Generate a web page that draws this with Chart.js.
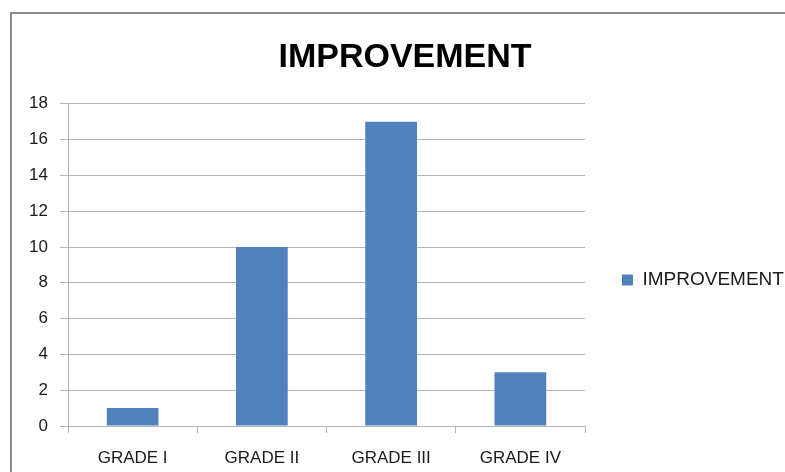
<!DOCTYPE html>
<html>
<head>
<meta charset="utf-8">
<script src="https://cdn.jsdelivr.net/npm/chart.js@4.4.1/dist/chart.umd.min.js"></script>
<style>
  html, body { margin: 0; padding: 0; background: #ffffff; overflow: hidden; width: 785px; height: 472px; }
  #frame { position: absolute; left: 10px; top: 12px; width: 800px; height: 500px; border: 2px solid #8c8c8c; box-sizing: border-box; }
  #wrap { position: absolute; left: 26px; top: 14px; width: 758px; height: 532px; }
</style>
</head>
<body>
<div id="frame"></div>
<div id="wrap"><canvas id="c"></canvas></div>
<script>
const categories = ["GRADE I", "GRADE II", "GRADE III", "GRADE IV"];
const seriesName = "IMPROVEMENT";
const improvement = [1, 10, 17, 3];
const yMin = 0;
const yMax = 18;
const yStep = 2;

const FONT = "'Liberation Sans', Arial, sans-serif";
const GRID = "#b4b4b4";

new Chart(document.getElementById("c"), {
  type: "bar",
  data: {
    labels: categories,
    datasets: [{
      label: seriesName,
      data: improvement,
      backgroundColor: "#4f81bd",
      borderWidth: 0,
      barPercentage: 0.4,
      categoryPercentage: 1.0
    }]
  },
  options: {
    responsive: true,
    maintainAspectRatio: false,
    animation: false,
    devicePixelRatio: 1,
    layout: { padding: 0 },
    plugins: {
      title: {
        display: true,
        text: seriesName,
        color: "#000000",
        font: { family: FONT, size: 34, weight: "bold" },
        padding: { top: 23, bottom: 26 }
      },
      legend: {
        display: true,
        position: "right",
        maxWidth: 199,
        labels: {
          boxWidth: 11,
          boxHeight: 11,
          padding: 37,
          color: "#1a1a1a",
          font: { family: FONT, size: 19 }
        }
      },
      tooltip: { enabled: false }
    },
    scales: {
      x: {
        offset: true,
        grid: { display: true, drawOnChartArea: false, drawTicks: true, tickLength: 7, color: GRID, offset: true },
        border: { display: true, color: GRID, width: 1 },
        ticks: { color: "#1a1a1a", font: { family: FONT, size: 17 }, padding: 15, maxRotation: 0, autoSkip: false },
        afterFit: function (scale) { scale.height = 120; }
      },
      y: {
        min: yMin,
        max: yMax,
        ticks: { stepSize: yStep, color: "#1a1a1a", font: { family: FONT, size: 17 }, padding: 12 },
        grid: { color: GRID, tickLength: 8, drawTicks: true },
        border: { display: true, color: GRID, width: 1 },
        afterFit: function (scale) { scale.width = 42; }
      }
    }
  }
});
</script>
</body>
</html>
